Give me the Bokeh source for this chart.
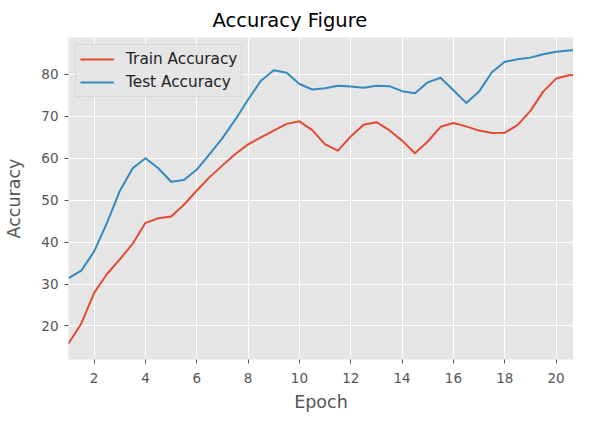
from bokeh.plotting import figure
from bokeh.models import ColumnDataSource, Range1d, FixedTicker, Legend, LegendItem
from bokeh.embed import file_html
from bokeh.resources import INLINE

# ---- data ----
epochs = [1, 1.5, 2, 2.5, 3, 3.5, 4, 4.5, 5, 5.5, 6, 6.5, 7, 7.5, 8, 8.5, 9, 9.5, 10, 10.5,
          11, 11.5, 12, 12.5, 13, 13.5, 14, 14.5, 15, 15.5, 16, 16.5, 17, 17.5, 18, 18.5,
          19, 19.5, 20, 20.5, 21]
train_acc = [15.8, 20.6, 27.9, 32.4, 35.9, 39.6, 44.6, 45.7, 46.1, 48.9, 52.3, 55.5, 58.3,
             61.0, 63.3, 65.0, 66.6, 68.2, 68.8, 66.7, 63.3, 61.8, 65.2, 68.0, 68.6, 66.7,
             64.2, 61.2, 64.0, 67.5, 68.4, 67.6, 66.6, 66.0, 66.1, 67.9, 71.3, 75.9, 79.0,
             79.8, 80.0]
test_acc = [31.4, 33.2, 37.8, 44.6, 52.2, 57.6, 60.0, 57.6, 54.4, 54.8, 57.3, 61.0, 64.8,
            69.2, 74.0, 78.5, 81.0, 80.4, 77.7, 76.4, 76.7, 77.3, 77.1, 76.8, 77.3, 77.2,
            76.0, 75.5, 78.1, 79.2, 76.2, 73.2, 75.9, 80.5, 83.0, 83.6, 84.0, 84.8, 85.4,
            85.7, 85.8]
x_ticks = [2, 4, 6, 8, 10, 12, 14, 16, 18, 20]
y_ticks = [20, 30, 40, 50, 60, 70, 80]
series_names = ["Train Accuracy", "Test Accuracy"]

RED = "#E24A33"
BLUE = "#348ABD"
GREY = "#555555"
FONT = "DejaVu Sans"

src = ColumnDataSource(dict(epoch=epochs, train=train_acc, test=test_acc))

p = figure(width=573, height=414, output_backend="svg", toolbar_location=None,
           x_range=Range1d(1, 20.68), y_range=Range1d(12.0, 88.8),
           min_border_left=68, min_border_right=0, min_border_top=37, min_border_bottom=52,
           title="Accuracy Figure")

p.background_fill_color = "#E5E5E5"
p.border_fill_color = "white"
p.outline_line_color = None

p.title.text_font = FONT
p.title.text_font_size = "19.5px"
p.title.text_font_style = "normal"
p.title.text_color = "#000000"
p.title.align = "left"
p.title.offset = 144
p.title.standoff = 12

for ax in (p.xaxis[0], p.yaxis[0]):
    ax.axis_line_color = None
    ax.major_tick_line_color = GREY
    ax.major_tick_out = 4
    ax.major_tick_in = 0
    ax.minor_tick_line_color = None
    ax.major_label_text_color = GREY
    ax.major_label_text_font = FONT
    ax.major_label_text_font_size = "13.5px"
    ax.axis_label_text_color = GREY
    ax.axis_label_text_font = FONT
    ax.axis_label_text_font_size = "17.5px"
    ax.axis_label_text_font_style = "normal"

p.xaxis.ticker = FixedTicker(ticks=x_ticks)
p.yaxis.ticker = FixedTicker(ticks=y_ticks)
p.xaxis.axis_label = "Epoch"
p.yaxis.axis_label = "Accuracy"
p.xaxis.major_label_standoff = 9
p.yaxis.major_label_standoff = 6
p.xaxis.axis_label_standoff = 6
p.yaxis.axis_label_standoff = 14

p.grid.grid_line_color = "white"
p.grid.grid_line_width = 1
p.xgrid.ticker = FixedTicker(ticks=x_ticks)
p.ygrid.ticker = FixedTicker(ticks=y_ticks)

r1 = p.line("epoch", "train", source=src, line_color=RED, line_width=2, line_join="round")
r2 = p.line("epoch", "test", source=src, line_color=BLUE, line_width=2, line_join="round")

legend = Legend(items=[LegendItem(label=series_names[0], renderers=[r1]),
                       LegendItem(label=series_names[1], renderers=[r2])],
                location="top_left")
legend.label_text_font = FONT
legend.label_text_font_size = "15.3px"
legend.label_text_color = "#222222"
legend.background_fill_color = "#E5E5E5"
legend.background_fill_alpha = 0.8
legend.border_line_color = "#CCCCCC"
legend.border_line_width = 1
legend.glyph_width = 34
legend.glyph_height = 20
legend.label_height = 20
legend.spacing = 3
legend.padding = 4
legend.margin = 7
legend.label_standoff = 12
p.add_layout(legend)

open("out.html", "w").write(file_html(p, INLINE))
